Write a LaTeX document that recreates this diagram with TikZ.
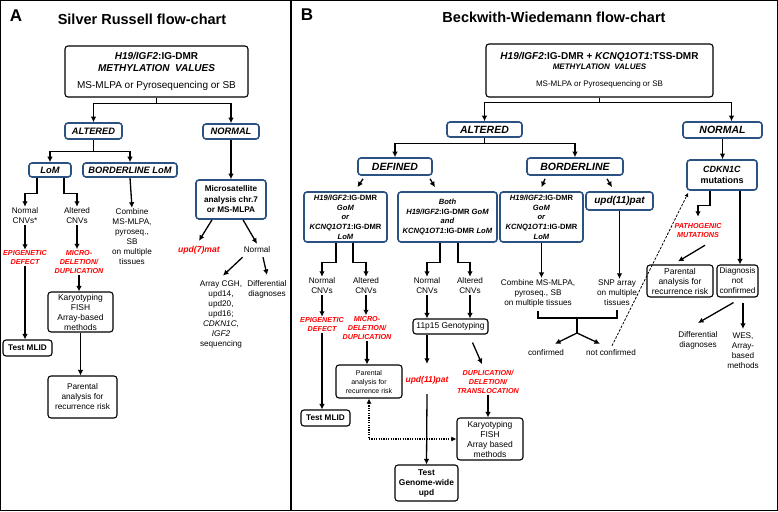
\documentclass[tikz,border=0pt]{standalone}
\usepackage{amsmath}
\usepackage{tikz}
\usepackage{xcolor}
\usepackage{fontspec}
\setmainfont{Liberation Sans}
\usetikzlibrary{arrows.meta}
\definecolor{boxblue}{RGB}{44,82,130}
\newcommand{\fsz}[2]{\fontsize{#1}{#2}\selectfont}

\begin{document}
\begin{tikzpicture}[x=1pt,y=-1pt]%
  \tikzstyle{every node}=[align=center,inner sep=1pt,font=\fsz{8.2}{10}]
  \tikzstyle{boxb}=[rectangle,draw=boxblue,line width=1.6pt,rounded corners=3pt,fill=white,inner sep=0pt]
  \tikzstyle{boxk}=[rectangle,draw=black,line width=1.1pt,rounded corners=3pt,fill=white,inner sep=0pt]
  \tikzstyle{lbla}=[font=\fsz{9.3}{11}\bfseries\itshape]
  \tikzstyle{lblb}=[font=\fsz{10.5}{12}\bfseries\itshape]
  \tikzstyle{dmr}=[font=\fsz{7.6}{9.7}\bfseries]
  \tikzstyle{redt}=[text=red,font=\fsz{7.2}{9}\bfseries\itshape]
  \tikzstyle{arr}=[-{Latex[length=5.5pt,width=5.5pt]},line width=1.3pt]
  \tikzstyle{ln}=[line width=1.3pt]
  \tikzstyle{dotarr}=[{Latex[length=5pt,width=5pt]}-{Latex[length=5pt,width=5pt]},line width=1.5pt,dash pattern=on 1.2pt off 1.2pt]
  \tikzstyle{dasharr}=[-{Latex[length=4pt,width=4pt]},line width=0.8pt,dash pattern=on 2.5pt off 1.5pt]
  \useasboundingbox (0,0) rectangle (778,511);
  \draw[line width=1.2pt] (0.6,0.6) rectangle (777.4,510.4);
  \draw[line width=1.2pt] (291,0.6) -- (291,510.4);

  % A
  \node(labA)[font=\fsz{17}{20}\bfseries] at (16,16) {A};
  \node(titA)[font=\fsz{14.5}{17}\bfseries] at (142,19) {Silver Russell flow-chart};
  \node(a0)[boxk,minimum width=183pt,minimum height=51pt,font=\fsz{10}{12}\bfseries] at (156.5,71.5)
    {\textit{H19/IGF2}:IG-DMR\\\textit{METHYLATION\ \ VALUES}\\[5pt]{\mdseries MS-MLPA or Pyrosequencing or SB}};
  \node(a1)[boxb,lbla,minimum width=57pt,minimum height=16pt] at (93.5,131) {ALTERED};
  \node(a2)[boxb,lbla,minimum width=56pt,minimum height=15pt] at (231,131.5) {NORMAL};
  \node(a3)[boxb,lbla,minimum width=42pt,minimum height=14pt] at (50,170) {LoM};
  \node(a4)[boxb,lbla,minimum width=94pt,minimum height=14pt] at (130,170) {BORDERLINE LoM};
  \node(a5) at (25,216) {Normal\\CNVs*};
  \node(a6) at (77,216) {Altered\\CNVs};
  \node(a7) at (132,237) {Combine\\MS-MLPA,\\pyroseq.,\\SB\\on multiple\\tissues};
  \node(a8)[redt] at (25,258) {EPIGENETIC\\DEFECT};
  \node(a9)[redt] at (79,262) {MICRO-\\DELETION/\\DUPLICATION};
  \node(a10)[boxk,minimum width=65pt,minimum height=40pt,font=\fsz{8.5}{10}] at (80.5,312) {Karyotyping\\FISH\\Array-based\\methods};
  \node(a11)[boxk,minimum width=49pt,minimum height=16pt,font=\fsz{8.2}{10}\bfseries] at (27.5,348) {Test MLID};
  \node(a12)[boxk,minimum width=69pt,minimum height=42pt,font=\fsz{8.3}{10}] at (82.5,397) {Parental\\analysis for\\recurrence risk};
  \node(a13)[boxb,minimum width=70pt,minimum height=39pt,font=\fsz{8.2}{10.5}\bfseries] at (231,199.5) {Microsatellite\\analysis chr.7\\or MS-MLPA};
  \node(a14)[redt,font=\fsz{8.6}{10}\bfseries\itshape] at (199,250) {upd(7)mat};
  \node(a15) at (257,250) {Normal};
  \node(a16) at (221,314.5) {Array CGH,\\upd14,\\upd20,\\upd16;\\\textit{CDKN1C},\\\textit{IGF2}\\sequencing};
  \node(a17) at (267,289) {Differential\\diagnoses};

  \draw[arr] (a0.south) -- ++(0,6) -| (a1.north);
  \draw[arr] (a0.south) -- ++(0,6) -| (a2.north);
  \draw[arr] (a1.south) -- ++(0,12) -| (a3.north);
  \draw[arr] (a1.south) -- ++(0,12) -| (a4.north);
  \draw[arr] ([xshift=-13pt]a3.south) -- ++(0,16) -| (a5.north);
  \draw[arr] ([xshift=14pt]a3.south) -- ++(0,16) -| (a6.north);
  \draw[arr] (a4.south) -- (a7.north);
  \draw[arr] (a5.south) -- (a8.north);
  \draw[arr] (a6.south) -- (a6.south |- a9.north);
  \draw[arr] (a9.south) -- (a9.south |- a10.north);
  \draw[arr] (a8.south) -- (a8.south |- a11.north);
  \draw[arr] (a10.south) -- (a10.south |- a12.north);
  \draw[arr] (a2.south) -- (a13.north);
  \draw[arr] ([xshift=-19pt]a13.south) -- ([yshift=4pt]a14.north);
  \draw[arr] ([xshift=12pt]a13.south) -- ([yshift=2pt]a15.north);
  \draw[arr] ([yshift=-3pt]a15.south west) -- ([xshift=2pt,yshift=4pt]a16.north);
  \draw[arr] ([xshift=6pt,yshift=-3pt]a15.south) -- ([yshift=4pt]a17.north);

  % B
  \node(labB)[font=\fsz{17}{20}\bfseries] at (307,15) {B};
  \node(titB)[font=\fsz{14.5}{17}\bfseries] at (554,17) {Beckwith-Wiedemann flow-chart};
  \node(b0)[boxk,minimum width=227pt,minimum height=53pt,font=\fsz{8}{10}\bfseries] at (599.5,70.5)
    {{\fsz{10}{10}\textit{H19/IGF2}:IG-DMR + \textit{KCNQ1OT1}:TSS-DMR}\\\textit{METHYLATION\ \ VALUES}\\[7pt]{\mdseries MS-MLPA or Pyrosequencing or SB}};
  \node(b1)[boxb,lblb,minimum width=75pt,minimum height=15pt] at (484.5,129.5) {ALTERED};
  \node(b2)[boxb,lblb,minimum width=79pt,minimum height=16pt] at (722.5,130) {NORMAL};
  \node(b3)[boxb,lblb,minimum width=74pt,minimum height=17pt] at (395,166.5) {DEFINED};
  \node(b4)[boxb,lblb,minimum width=96pt,minimum height=17pt] at (575,166.5) {BORDERLINE};
  \node(b5)[boxb,minimum width=70pt,minimum height=30pt,font=\fsz{9}{11}\bfseries] at (722,175) {\textit{CDKN1C}\\mutations};
  \node(b6)[boxb,dmr,minimum width=83pt,minimum height=50pt] at (345.5,217)
    {\textit{H19/IGF2}:IG-DMR\\\textit{GoM}\\\textit{or}\\\textit{KCNQ1OT1}:IG-DMR\\\textit{LoM}};
  \node(b7)[boxb,dmr,minimum width=99pt,minimum height=50pt] at (447.5,217)
    {\textit{Both}\\\textit{H19/IGF2}:IG-DMR \textit{GoM}\\\textit{and}\\\textit{KCNQ1OT1}:IG-DMR \textit{LoM}};
  \node(b8)[boxb,dmr,minimum width=83pt,minimum height=50pt] at (541.5,217)
    {\textit{H19/IGF2}:IG-DMR\\\textit{GoM}\\\textit{or}\\\textit{KCNQ1OT1}:IG-DMR\\\textit{LoM}};
  \node(b9)[boxb,font=\fsz{10}{12}\bfseries\itshape,minimum width=67pt,minimum height=18pt] at (619.5,201) {upd(11)pat};
  \node(b10) at (322,286) {Normal\\CNVs};
  \node(b11) at (366,286) {Altered\\CNVs};
  \node(b12) at (427,286) {Normal\\CNVs};
  \node(b13) at (470,286) {Altered\\CNVs};
  \node(b14)[redt] at (322,325) {EPIGENETIC\\DEFECT};
  \node(b15)[redt] at (367,328) {MICRO-\\DELETION/\\DUPLICATION};
  \node(b16)[boxk,minimum width=75pt,minimum height=15pt,font=\fsz{8.4}{10}] at (450.5,326.5) {11p15 Genotyping};
  \node(b17)[boxk,minimum width=49pt,minimum height=16pt,font=\fsz{8.2}{10}\bfseries] at (325.5,418) {Test MLID};
  \node(b18)[boxk,minimum width=66pt,minimum height=33pt,font=\fsz{7}{9}] at (369,381.5) {Parental\\analysis for\\recurrence risk};
  \node(b19)[redt,font=\fsz{8.5}{10}\bfseries\itshape] at (427,380) {upd(11)pat};
  \node(b20)[boxk,minimum width=63pt,minimum height=36pt,font=\fsz{8.4}{10}\bfseries] at (426.5,483) {Test\\Genome-wide\\upd};
  \node(b21)[redt] at (488,382) {DUPLICATION/\\DELETION/\\TRANSLOCATION};
  \node(b22)[boxk,minimum width=66pt,minimum height=42pt,font=\fsz{8.5}{10}] at (490,439) {Karyotyping\\FISH\\Array based\\methods};
  \node(b23) at (538,293) {Combine MS-MLPA,\\pyroseq., SB\\on multiple tissues};
  \node(b24) at (617,293) {SNP array\\on multiple\\tissues};
  \node(b25) at (546,353) {confirmed};
  \node(b26) at (611,353) {not confirmed};
  \node(b27)[redt] at (698,231) {PATHOGENIC\\MUTATIONS};
  \node(b28)[boxk,minimum width=66pt,minimum height=32pt,font=\fsz{8.5}{10}] at (680,281) {Parental\\analysis for\\recurrence risk};
  \node(b29)[boxk,minimum width=41pt,minimum height=32pt] at (737.5,281) {Diagnosis\\not\\confirmed};
  \node(b30) at (698,340) {Differential\\diagnoses};
  \node(b31) at (743,351) {WES,\\Array-\\based\\methods};
  \coordinate(join) at (577,318);
  \coordinate(fork) at (577,333);

  \draw[arr] (b0.south) -- ++(0,5) -| (b1.north);
  \draw[arr] (b0.south) -- ++(0,5) -| ([xshift=9pt]b2.north);
  \draw[arr] (b1.south) -- ++(0,6) -| (b3.north);
  \draw[arr] (b1.south) -- ++(0,6) -| (b4.north);
  \draw[arr] (b2.south) -- (b2.south |- b5.north);
  \draw[arr] ([xshift=-32pt,yshift=-3pt]b3.south) -- ([xshift=12pt,yshift=4pt]b6.north);
  \draw[arr] ([xshift=35pt,yshift=-3pt]b3.south) -- ([xshift=-12.5pt,yshift=4pt]b7.north);
  \draw[arr] ([xshift=-30pt,yshift=-3pt]b4.south) -- ([yshift=4pt]b8.north);
  \draw[arr] ([xshift=32pt,yshift=-3pt]b4.south) -- ([xshift=-7.5pt,yshift=4pt]b9.north);
  \draw[arr] ([xshift=-9.5pt]b6.south) -- ++(0,20) -| (b10.north);
  \draw[arr] ([xshift=7.5pt]b6.south) -- ++(0,20) -| (b11.north);
  \draw[arr] ([xshift=-7.5pt]b7.south) -- ++(0,20) -| (b12.north);
  \draw[arr] ([xshift=10.5pt]b7.south) -- ++(0,20) -| (b13.north);
  \draw[arr] (b10.south) -- (b14.north);
  \draw[arr] (b11.south) -- (b11.south |- b15.north);
  \draw[arr] (b12.south) -- (b12.south |- b16.north);
  \draw[arr] (b13.south) -- (b13.south |- b16.north);
  \draw[arr] (b14.south) -- (b14.south |- b17.north);
  \draw[arr] (b15.south) -- (b15.south |- b18.north);
  \draw[arr] (b16.south -| b19) -- ([yshift=11pt]b19.north);
  \draw[arr] ([yshift=-9pt]b19.south) -- (b20.north);
  \draw[arr] ([xshift=22pt,yshift=-8pt]b16.south) -- ([xshift=-6pt,yshift=5pt]b21.north);
  \draw[arr] (b21.south) -- (b21.south |- b22.north);
  \draw[dotarr] (b18.south) |- (b22.west);
  \draw[arr] (b8.south) -- (b8.south |- b23.north);
  \draw[arr] (b9.south) -- (b9.south |- b24.north);
  \draw[ln] ([yshift=-3pt]b23.south) |- (join) -| ([yshift=-3pt]b24.south);
  \draw[ln] (join) -- (fork);
  \draw[arr] (fork) -- ([xshift=9pt,yshift=5pt]b25.north);
  \draw[arr] (fork) -- ([xshift=-11pt,yshift=5pt]b26.north);
  \draw[dasharr] ([xshift=1pt,yshift=3pt]b26.north) -- ([xshift=2pt,yshift=-2pt]b5.south west);
  \draw[arr] ([xshift=-12pt]b5.south) -- ++(0,15) -| ([yshift=6pt]b27.north);
  \draw[arr] ([xshift=7pt,yshift=-6pt]b27.south) -- ([xshift=-2pt,yshift=3pt]b28.north);
  \draw[arr] ([xshift=18pt]b5.south) -- ([xshift=18pt]b5.south |- b29.north);
  \draw[arr] ([xshift=-4pt,yshift=-5pt]b29.south) -- ([yshift=7pt]b30.north);
  \draw[arr] ([xshift=5.5pt,yshift=-5pt]b29.south) -- ([yshift=3pt]b31.north);
\end{tikzpicture}
\end{document}
